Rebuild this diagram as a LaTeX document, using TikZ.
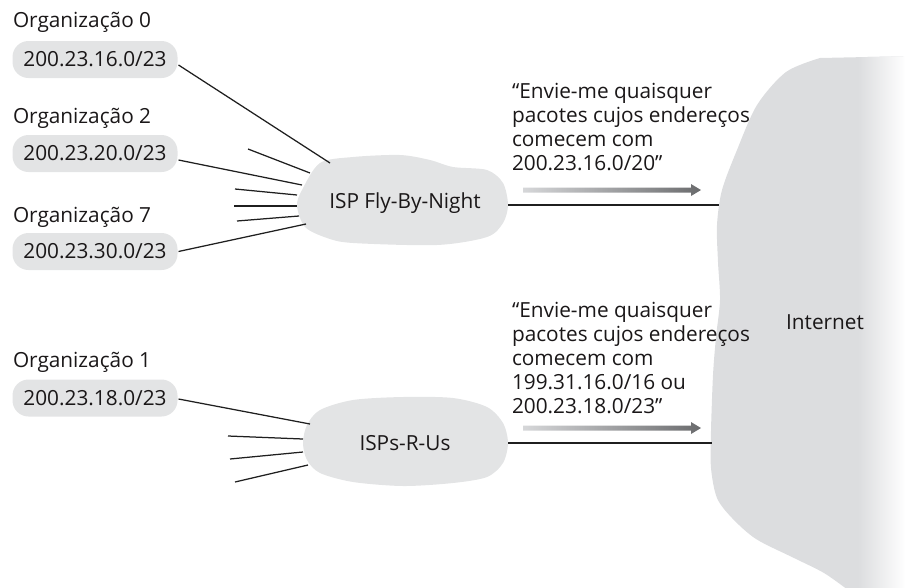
\documentclass[tikz,border=0pt]{standalone}
\usepackage{fontspec}
\setmainfont{Open Sans}
\usetikzlibrary{calc}
\definecolor{txt}{HTML}{1A1718}
\definecolor{blobgray}{HTML}{E3E4E5}
\definecolor{netgray}{HTML}{DCDDDF}
\definecolor{arrlight}{HTML}{D6D7D9}
\definecolor{arrdark}{HTML}{6A6B6D}
\begin{document}
\begin{tikzpicture}[x=1pt,y=-1pt,
  every node/.style={inner sep=0pt, outer sep=0pt, font=\fontsize{20.8}{24}\selectfont, text=txt},
  addr/.style={fill=blobgray, rounded corners=16pt, minimum width=165pt, minimum height=37pt},
  orglabel/.style={anchor=base west},
  note/.style={anchor=north west, align=left},
  link/.style={line width=1.25pt, draw=black!88}]
\useasboundingbox (0,0) rectangle (905,587);

% Internet cloud
\begin{scope}
\clip (915,56) -- plot[smooth] coordinates {(820,58) (786,72) (757,105) (737,150) (722,190) (717,225) (718,262) (720,300) (716,337) (713,375) (711,431) (711,468) (717,498) (732,518) (756,539) (794,558) (824,573) (848,590)} -- (915,595) -- cycle;
\fill[netgray] (700,40) rectangle (910,600);
\shade[left color=netgray, right color=white] (858,40) rectangle (906,600);
\end{scope}
\node (net) at (825,322) {Internet};

% ISP clouds
\fill[blobgray] plot[smooth cycle] coordinates {(320,163) (353,157) (400,155) (430,160) (453,167) (487,170) (503,183) (508,205) (503,223) (487,237) (437,245) (353,243) (327,238) (305,227) (297,206) (302,190)};
\node (fly) at (405,203) {ISP Fly-By-Night};
\fill[blobgray] plot[smooth cycle] coordinates {(320,410) (353,400) (403,397) (453,398) (487,407) (503,423) (508,443) (503,463) (487,477) (453,483) (403,486) (353,482) (320,473) (307,460) (303,443) (307,425)};
\node (rus) at (405,443) {ISPs-R-Us};

% Organizations
\node[orglabel] (o0) at (13,27) {Organização 0};
\node[addr] (b0) at (95,59.5) {200.23.16.0/23};
\node[orglabel] (o2) at (13,123) {Organização 2};
\node[addr] (b2) at (95,153.5) {200.23.20.0/23};
\node[orglabel] (o7) at (13,222) {Organização 7};
\node[addr] (b7) at (95,251.5) {200.23.30.0/23};
\node[orglabel] (o1) at (13,367) {Organização 1};
\node[addr] (b1) at (95,398) {200.23.18.0/23};

% cloud attachment points
\coordinate (f0) at (330,163);
\coordinate (f2) at (302,185);
\coordinate (f7) at (306,224);
\coordinate (fa) at (310,173);
\coordinate (fb) at (297,195);
\coordinate (fc) at (297,206);
\coordinate (fd) at (299,216);
\coordinate (sa) at (248,149);
\coordinate (sb) at (235,189);
\coordinate (sc) at (234,206);
\coordinate (sd) at (237,221);
\coordinate (r1) at (310,424);
\coordinate (ra) at (303,439);
\coordinate (rb) at (303,452);
\coordinate (rc) at (308,465);
\coordinate (ta) at (228,436);
\coordinate (tb) at (230,459);
\coordinate (tc) at (235,482);
\coordinate (flyR) at (508,205);
\coordinate (rusR) at (508,443);
\coordinate (net1) at (719,205);
\coordinate (net2) at (712,443);

\draw[link] ($(b0.east)+(1,5.5)$) -- (f0);
\draw[link] ($(b2.east)+(1,6.5)$) -- (f2);
\draw[link] ($(b7.east)+(1,0)$) -- (f7);
\draw[link] (sa) -- (fa);
\draw[link] (sb) -- (fb);
\draw[link] (sc) -- (fc);
\draw[link] (sd) -- (fd);
\draw[link] ($(b1.east)+(1,1)$) -- (r1);
\draw[link] (ta) -- (ra);
\draw[link] (tb) -- (rb);
\draw[link] (tc) -- (rc);
\draw[link] (flyR) -- (net1);
\draw[link] (rusR) -- (net2);

% announcements
\node[note] (n1) at (512,83) {“Envie-me quaisquer\\pacotes cujos endereços\\comecem com\\200.23.16.0/20”};
\node[note] (n2) at (512,302) {“Envie-me quaisquer\\pacotes cujos endereços\\comecem com\\199.31.16.0/16 ou\\200.23.18.0/23”};

% gradient arrows
\shade[left color=arrlight, right color=arrdark] (523,187.5) -- (691,187.5) -- (691,184) -- (701,190) -- (691,196) -- (691,192.5) -- (523,192.5) -- cycle;
\shade[left color=arrlight, right color=arrdark] (523,425.5) -- (691,425.5) -- (691,422) -- (701,428) -- (691,434) -- (691,430.5) -- (523,430.5) -- cycle;
\end{tikzpicture}
\end{document}
